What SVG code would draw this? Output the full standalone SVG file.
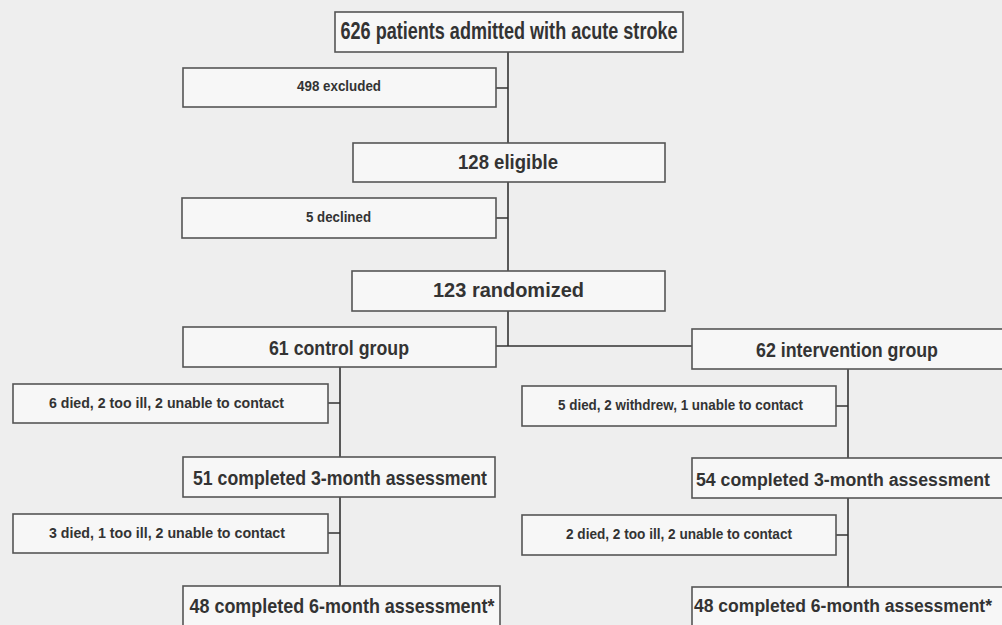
<svg xmlns="http://www.w3.org/2000/svg" width="1002" height="625" viewBox="0 0 1002 625">
<style>
.box{fill:#f7f7f7;stroke:#555;stroke-width:1.6}
.t{font-family:"Liberation Sans",Arial,sans-serif;font-weight:bold;fill:#333;text-anchor:middle}
.big{font-size:21px}
.edge{font-size:18px}
.top{font-size:23px}
.sm{font-size:15px}
.c{stroke:#333;stroke-width:1.6;fill:none}
</style>
<rect width="1002" height="625" fill="#eeeeee"/>
<g id="connectors">
<path class="c" d="M508 52V143M508 182V271M508 311V346M496 88H508M496 218H508M496 346H692"/>
<path class="c" d="M340 367V457M340 497V586M328 403H340M328 533H340"/>
<path class="c" d="M848 369V458M848 498V587M836 406H848M836 535H848"/>
</g>
<g id="n626"><rect class="box" x="335" y="12" width="348" height="40"/><text class="t top" x="509" y="39" textLength="337" lengthAdjust="spacingAndGlyphs">626 patients admitted with acute stroke</text></g>
<g id="n498"><rect class="box" x="183" y="68" width="313" height="39"/><text class="t sm" x="339" y="91" textLength="84" lengthAdjust="spacingAndGlyphs">498 excluded</text></g>
<g id="n128"><rect class="box" x="353" y="143" width="312" height="39"/><text class="t big" x="508" y="169" textLength="100" lengthAdjust="spacingAndGlyphs">128 eligible</text></g>
<g id="n5dec"><rect class="box" x="182" y="198" width="314" height="40"/><text class="t sm" x="338.5" y="222" textLength="65" lengthAdjust="spacingAndGlyphs">5 declined</text></g>
<g id="n123"><rect class="box" x="352" y="271" width="313" height="40"/><text class="t big" x="508.5" y="297" textLength="151" lengthAdjust="spacingAndGlyphs">123 randomized</text></g>
<g id="n61"><rect class="box" x="183" y="327" width="313" height="40"/><text class="t big" x="339" y="355" textLength="140" lengthAdjust="spacingAndGlyphs">61 control group</text></g>
<g id="n62"><rect class="box" x="692" y="329" width="320" height="40"/><text class="t big" x="847" y="357" textLength="182" lengthAdjust="spacingAndGlyphs">62 intervention group</text></g>
<g id="nL1"><rect class="box" x="13" y="384" width="315" height="39"/><text class="t sm" x="166.5" y="408" textLength="235" lengthAdjust="spacingAndGlyphs">6 died, 2 too ill, 2 unable to contact</text></g>
<g id="n51"><rect class="box" x="183" y="457" width="312" height="40"/><text class="t big" x="340" y="485" textLength="294" lengthAdjust="spacingAndGlyphs">51 completed 3-month assessment</text></g>
<g id="nL2"><rect class="box" x="13" y="514" width="315" height="39"/><text class="t sm" x="167" y="538" textLength="236" lengthAdjust="spacingAndGlyphs">3 died, 1 too ill, 2 unable to contact</text></g>
<g id="n48L"><rect class="box" x="183" y="586" width="317" height="50"/><text class="t big" x="342" y="613" textLength="305" lengthAdjust="spacingAndGlyphs">48 completed 6-month assessment*</text></g>
<g id="nR1"><rect class="box" x="522" y="386" width="314" height="40"/><text class="t sm" x="680.5" y="410" textLength="245" lengthAdjust="spacingAndGlyphs">5 died, 2 withdrew, 1 unable to contact</text></g>
<g id="n54"><rect class="box" x="692" y="458" width="320" height="40"/><text class="t edge" x="843" y="486" textLength="294" lengthAdjust="spacingAndGlyphs">54 completed 3-month assessment</text></g>
<g id="nR2"><rect class="box" x="522" y="515" width="314" height="40"/><text class="t sm" x="679" y="539" textLength="226" lengthAdjust="spacingAndGlyphs">2 died, 2 too ill, 2 unable to contact</text></g>
<g id="n48R"><rect class="box" x="692" y="587" width="320" height="50"/><text class="t edge" x="843" y="612" textLength="298" lengthAdjust="spacingAndGlyphs">48 completed 6-month assessment*</text></g>
</svg>
